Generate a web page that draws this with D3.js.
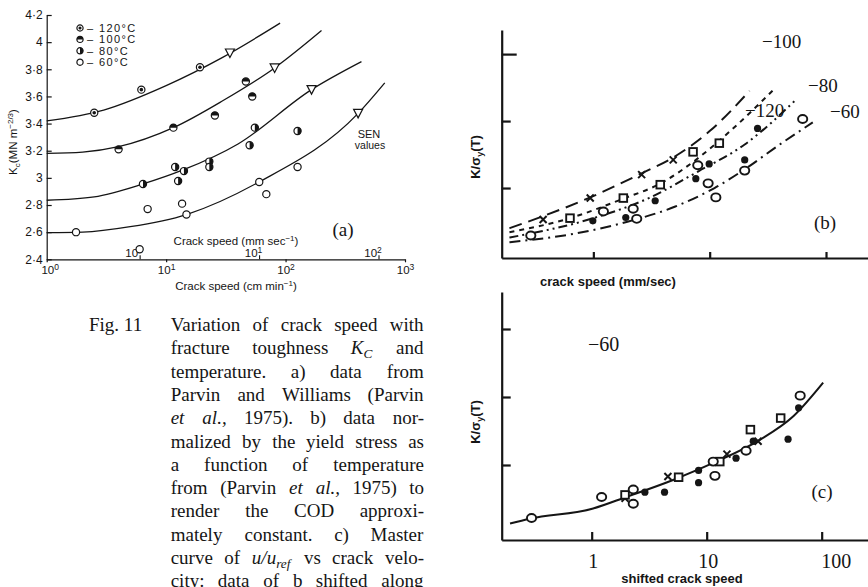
<!DOCTYPE html>
<html>
<head>
<meta charset="utf-8">
<style>
  body { margin: 0; padding: 0; background: #fff; }
  svg { display: block; }
  .sans { font-family: "Liberation Sans", Arial, sans-serif; }
  .serif { font-family: "Liberation Serif", "Times New Roman", serif; }
</style>
</head>
<body>
<div id="fig"></div>
<script src="https://d3js.org/d3.v7.min.js"></script>
<script>
// ---------- panel (a) data : crack speed (cm/min) vs Kc ----------
var kcTicks = [2.4, 2.6, 2.8, 3, 3.2, 3.4, 3.6, 3.8, 4, 4.2];
var kcTickLabels = ['2·4', '2·6', '2·8', '3', '3·2', '3·4', '3·6', '3·8', '4', '4·2'];
var speedTicks = [1, 10, 100, 1000];
var speedTickExp = ['0', '1', '2', '3'];
var mmTicks = [1, 10, 100];
var tempNames = ['120°C', '100°C', '80°C', '60°C'];

var curve120 = [[1, 3.42], [3, 3.50], [10, 3.68], [30, 3.89], [90, 4.14]];
var curve100 = [[1, 3.18], [2, 3.19], [4, 3.23], [11.5, 3.37], [30, 3.57], [81, 3.81], [200, 4.085]];
var curve80 = [[1, 2.835], [2.5, 2.86], [6.4, 2.955], [14, 3.06], [40, 3.25], [165, 3.65], [432, 3.856]];
var curve60 = [[1, 2.596], [2, 2.60], [5, 2.64], [14.8, 2.73], [60, 2.97], [405, 3.475], [677, 3.70]];

var pts120 = [[2.5, 3.48], [6.2, 3.65], [19.2, 3.815]];
var pts100 = [[4.0, 3.21], [11.5, 3.37], [25.6, 3.46], [46.5, 3.71], [52.6, 3.60]];
var pts80 = [[6.4, 2.955], [11.9, 3.08], [12.6, 2.977], [14.1, 3.05], [23, 3.12], [23, 3.08], [50, 3.24], [55.3, 3.37], [126, 3.345]];
var pts60 = [[1.76, 2.6], [6.0, 2.474], [7.0, 2.77], [13.6, 2.81], [14.8, 2.73], [60.2, 2.97], [69, 2.88], [126, 3.08]];
var senPts = [[34.2, 3.92], [81, 3.81], [165, 3.65], [405, 3.475]];

// ---------- panel (b) data : K/sigma_y(T) vs crack speed (mm/sec) ----------
var bCurveNames = ['-120', '-100', '-80', '-60'];
var bCurve120 = [[0.19, 0.40], [0.37, 0.58], [0.94, 0.86], [2.6, 1.22], [4.9, 1.46], [10, 1.85], [22, 2.45]];
var bCurve100 = [[0.19, 0.34], [0.63, 0.55], [1.8, 0.84], [3.8, 1.07], [8, 1.45], [15, 1.85], [36, 2.48]];
var bCurve80 = [[0.19, 0.26], [1, 0.55], [3, 0.85], [8, 1.25], [20, 1.65], [56, 2.33]];
var bCurve60 = [[0.19, 0.19], [0.7, 0.32], [2, 0.50], [5, 0.72], [11, 1.0], [20, 1.28], [40, 1.65], [77, 1.98]];

var bCross = [[0.37, 0.53], [0.94, 0.85], [2.6, 1.20], [4.86, 1.42]];
var bSquare = [[0.63, 0.55], [1.81, 0.85], [3.76, 1.05], [7.2, 1.54], [12.1, 1.67]];
var bOpen = [[0.29, 0.29], [1.22, 0.65], [2.2, 0.69], [2.36, 0.54], [7.9, 1.34], [9.7, 1.07], [11.3, 0.86], [20, 1.26], [63, 2.03]];
var bFilled = [[0.99, 0.51], [1.9, 0.56], [3.4, 0.81], [7.6, 1.14], [9.9, 1.36], [20, 1.42], [25.8, 1.89]];

// ---------- panel (c) data : master curve vs shifted crack speed ----------
var cTickLabels = ['1', '10', '100'];
var cCurve = [[0.195, 0.14], [0.29, 0.21], [1.03, 0.36], [2.0, 0.53], [5.1, 0.78], [11.4, 1.03], [29, 1.37], [57, 1.72], [103, 2.21]];
var cOpen = [[0.30, 0.22], [1.22, 0.53], [2.3, 0.64], [2.3, 0.43], [11.4, 1.05], [11.8, 0.84], [22, 1.21], [65, 2.02]];
var cSquare = [[1.95, 0.56], [5.7, 0.82], [13, 1.05], [24, 1.52], [44, 1.69]];
var cFilled = [[2.9, 0.60], [4.3, 0.60], [8.5, 0.92], [8.5, 0.74], [18, 1.10], [25.4, 1.35], [51, 1.38], [63, 1.84]];
var cCross = [[1.95, 0.51], [4.6, 0.83], [15, 1.16], [28, 1.35]];

// ---------- caption ----------
var captionLines = [
  'Variation of crack speed with',
  'fracture toughness K_C and',
  'temperature. a) data from',
  'Parvin and Williams (Parvin',
  '~et ~al., 1975). b) data nor-',
  'malized by the yield stress as',
  'a function of temperature',
  'from (Parvin ~et ~al., 1975) to',
  'render the COD approxi-',
  'mately constant. c) Master',
  'curve of u/u_ref vs crack velo-',
  'city: data of b shifted along'
];

var ink = '#151515';
var svg = d3.select('#fig').append('svg').attr('width', 868).attr('height', 587);
svg.append('rect').attr('width', 868).attr('height', 587).attr('fill', '#fff');

// ================= panel (a) =================
var ga = svg.append('g');
var xa = d3.scaleLog().domain([1, 1000]).range([46.7, 405]);
var xaMM = d3.scaleLog().domain([1 / 6, 1000 / 6]).range([46.7, 405]);
var ya = d3.scaleLinear().domain([2.4, 4.2]).range([259.3, 15]);

var yAxisA = ga.append('g').attr('class', 'sans').attr('transform', 'translate(46.7,0)')
  .call(d3.axisLeft(ya).tickValues(kcTicks).tickSize(-5).tickSizeOuter(0).tickPadding(4)
    .tickFormat(function(d, i) { return kcTickLabels[i]; }));
yAxisA.selectAll('text').attr('font-size', 12).attr('fill', ink);
yAxisA.selectAll('line, path').attr('stroke', ink).attr('stroke-width', 1.2);

var xAxisA = ga.append('g').attr('class', 'sans').attr('transform', 'translate(0,259.3)')
  .call(d3.axisBottom(xa).tickValues(speedTicks).tickSize(3).tickSizeOuter(0).tickFormat(''));
xAxisA.selectAll('line, path').attr('stroke', ink).attr('stroke-width', 1.2);
xAxisA.selectAll('.tick').append('text').attr('x', function(d) { return d === 1 ? 3 : 0; })
  .attr('y', 14.5).attr('text-anchor', 'middle')
  .attr('font-size', 11.5).attr('fill', ink)
  .each(function(d, i) {
    var t = d3.select(this);
    t.append('tspan').text('10');
    t.append('tspan').attr('dy', -4).attr('font-size', 8.5).text(speedTickExp[i]);
  });

var mmAxisA = ga.append('g').attr('class', 'sans').attr('transform', 'translate(0,259.3)')
  .call(d3.axisTop(xaMM).tickValues(mmTicks).tickSize(4).tickSizeOuter(0).tickFormat(''));
mmAxisA.select('.domain').remove();
mmAxisA.selectAll('line').attr('stroke', ink).attr('stroke-width', 1.1);
mmAxisA.selectAll('.tick').append('text').attr('x', -6).attr('y', -2).attr('text-anchor', 'middle')
  .attr('font-size', 11.5).attr('fill', ink)
  .each(function(d, i) {
    var t = d3.select(this);
    t.append('tspan').text('10');
    t.append('tspan').attr('dy', -4).attr('font-size', 8.5).text(speedTickExp[i]);
  });

var axTitle1 = ga.append('text').attr('class', 'sans').attr('x', 236).attr('y', 245)
  .attr('text-anchor', 'middle').attr('font-size', 11.5).attr('fill', ink);
axTitle1.append('tspan').text('Crack speed (mm sec');
axTitle1.append('tspan').attr('dy', -4).attr('font-size', 8).text('−1');
axTitle1.append('tspan').attr('dy', 4).text(')');
var axTitle2 = ga.append('text').attr('class', 'sans').attr('x', 236).attr('y', 290)
  .attr('text-anchor', 'middle').attr('font-size', 11.5).attr('fill', ink);
axTitle2.append('tspan').text('Crack speed (cm min');
axTitle2.append('tspan').attr('dy', -4).attr('font-size', 8).text('−1');
axTitle2.append('tspan').attr('dy', 4).text(')');

var yTitleA = ga.append('text').attr('class', 'sans')
  .attr('transform', 'translate(17,142) rotate(-90)').attr('text-anchor', 'middle')
  .attr('font-size', 11.5).attr('fill', ink);
yTitleA.append('tspan').text('K');
yTitleA.append('tspan').attr('dy', 3).attr('font-size', 8).text('c');
yTitleA.append('tspan').attr('dy', -3).text('(MN m');
yTitleA.append('tspan').attr('dy', -4).attr('font-size', 8).text('−2/3');
yTitleA.append('tspan').attr('dy', 4).text(')');

var lineA = d3.line().x(function(d) { return xa(d[0]); }).y(function(d) { return ya(d[1]); })
  .curve(d3.curveMonotoneX);
[curve120, curve100, curve80, curve60].forEach(function(c) {
  ga.append('path').attr('d', lineA(c)).attr('fill', 'none').attr('stroke', ink).attr('stroke-width', 1.3);
});

function markA(g, kind, cx, cy, r) {
  var m = g.append('g').attr('transform', 'translate(' + cx + ',' + cy + ')');
  m.append('circle').attr('r', r).attr('fill', '#fff').attr('stroke', ink).attr('stroke-width', 1.2);
  if (kind === 0) {
    m.append('circle').attr('r', r * 0.5).attr('fill', ink);
  } else if (kind === 1) {
    m.append('path').attr('d', 'M' + (-r) + ',0 A' + r + ',' + r + ' 0 0 1 ' + r + ',0 Z').attr('fill', ink);
  } else if (kind === 2) {
    m.append('path').attr('d', 'M0,' + (-r) + ' A' + r + ',' + r + ' 0 0 1 0,' + r + ' Z').attr('fill', ink);
  }
}
[pts120, pts100, pts80, pts60].forEach(function(pts, k) {
  pts.forEach(function(p) { markA(ga, k, xa(p[0]), ya(p[1]), 3.6); });
});
senPts.forEach(function(p) {
  ga.append('path').attr('transform', 'translate(' + xa(p[0]) + ',' + ya(p[1]) + ')')
    .attr('d', 'M-4.5,-4 L4.5,-4 L0,4.5 Z').attr('fill', '#fff').attr('stroke', ink).attr('stroke-width', 1.2);
});

tempNames.forEach(function(n, i) {
  var yy = 28 + i * 11.4;
  markA(ga, i, 80, yy, 3.1);
  ga.append('text').attr('class', 'sans').attr('x', 87).attr('y', yy + 4)
    .attr('font-size', 11).attr('letter-spacing', 1.4).attr('fill', ink).text('– ' + n);
});
ga.append('text').attr('class', 'sans').attr('x', 369).attr('y', 138).attr('text-anchor', 'middle')
  .attr('font-size', 11).attr('fill', ink).text('SEN');
ga.append('text').attr('class', 'sans').attr('x', 370).attr('y', 149).attr('text-anchor', 'middle')
  .attr('font-size', 10.5).attr('fill', ink).text('values');
ga.append('text').attr('class', 'serif').attr('x', 343).attr('y', 236).attr('text-anchor', 'middle')
  .attr('font-size', 19).attr('fill', ink).text('(a)');

// ================= panel (b) =================
var gb = svg.append('g');
var xb = d3.scaleLog().domain([0.163, 229.6]).range([501.7, 868]);
var yb = d3.scaleLinear().domain([-0.045, 3.36]).range([258, 30]);

var yAxisB = gb.append('g').attr('transform', 'translate(501.7,0)')
  .call(d3.axisLeft(yb).tickValues([1, 2, 3]).tickSize(-9).tickSizeOuter(0).tickFormat(''));
var xAxisB = gb.append('g').attr('transform', 'translate(0,258)')
  .call(d3.axisBottom(xb).tickValues([1, 10, 100]).tickSize(-6).tickSizeOuter(0).tickFormat(''));
gb.selectAll('line, path.domain').attr('stroke', ink).attr('stroke-width', 2.2);
yAxisB.selectAll('.tick line').attr('x2', function(d) { return d === 3 ? 15 : 9; });

var lineB = d3.line().x(function(d) { return xb(d[0]); }).y(function(d) { return yb(d[1]); })
  .curve(d3.curveMonotoneX);
var bDash = ['13,7', '5,5', '9,4,2,4,2,4', '11,5,2,5'];
[bCurve120, bCurve100, bCurve80, bCurve60].forEach(function(c, i) {
  gb.append('path').attr('d', lineB(c)).attr('fill', 'none').attr('stroke', ink)
    .attr('stroke-width', 2).attr('stroke-dasharray', bDash[i]);
});

function markBC(g, kind, cx, cy) {
  if (kind === 'x') {
    g.append('path').attr('d', 'M' + (cx - 3.5) + ',' + (cy - 3.5) + 'L' + (cx + 3.5) + ',' + (cy + 3.5) +
      'M' + (cx - 3.5) + ',' + (cy + 3.5) + 'L' + (cx + 3.5) + ',' + (cy - 3.5))
      .attr('stroke', ink).attr('stroke-width', 2);
  } else if (kind === 'sq') {
    g.append('rect').attr('x', cx - 3.8).attr('y', cy - 3.8).attr('width', 7.6).attr('height', 7.6)
      .attr('fill', '#fff').attr('stroke', ink).attr('stroke-width', 1.9);
  } else if (kind === 'f') {
    g.append('circle').attr('cx', cx).attr('cy', cy).attr('r', 3.6).attr('fill', ink);
  } else {
    g.append('ellipse').attr('cx', cx).attr('cy', cy).attr('rx', 4.6).attr('ry', 4)
      .attr('fill', '#fff').attr('stroke', ink).attr('stroke-width', 1.9);
  }
}
[[bCross, 'x'], [bSquare, 'sq'], [bOpen, 'o'], [bFilled, 'f']].forEach(function(s) {
  s[0].forEach(function(p) { markBC(gb, s[1], xb(p[0]), yb(p[1])); });
});

var bLabelPos = [[745, 117], [762, 48], [808, 92], [830, 118]];
bCurveNames.forEach(function(n, i) {
  gb.append('text').attr('class', 'serif').attr('x', bLabelPos[i][0]).attr('y', bLabelPos[i][1])
    .attr('font-size', 19).attr('fill', ink).text(n.replace('-', '−'));
});
gb.append('text').attr('class', 'serif').attr('x', 825).attr('y', 229).attr('text-anchor', 'middle')
  .attr('font-size', 19).attr('fill', ink).text('(b)');
gb.append('text').attr('class', 'sans').attr('x', 608).attr('y', 286).attr('text-anchor', 'middle')
  .attr('font-size', 13).attr('font-weight', 'bold').attr('fill', ink).text('crack speed (mm/sec)');
var yTitleB = gb.append('text').attr('class', 'sans').attr('transform', 'translate(480,157) rotate(-90)')
  .attr('text-anchor', 'middle').attr('font-size', 13).attr('font-weight', 'bold').attr('fill', ink);
yTitleB.append('tspan').text('K/σ');
yTitleB.append('tspan').attr('dy', 3).attr('font-size', 9).text('y');
yTitleB.append('tspan').attr('dy', -3).text('(T)');

// ================= panel (c) =================
var gc = svg.append('g');
var xc = d3.scaleLog().domain([0.165, 252.8]).range([501.7, 868]);
var yc = d3.scaleLinear().domain([-0.103, 3.544]).range([540, 292]);

gc.append('g').attr('transform', 'translate(501.7,0)')
  .call(d3.axisLeft(yc).tickValues([1, 2, 3]).tickSize(-9).tickSizeOuter(0).tickFormat(''));
var xAxisC = gc.append('g').attr('transform', 'translate(0,540)')
  .call(d3.axisBottom(xc).tickValues([1, 10, 100]).tickSize(-8).tickSizeOuter(0).tickPadding(14)
    .tickFormat(function(d, i) { return cTickLabels[i]; }));
gc.selectAll('line, path.domain').attr('stroke', ink).attr('stroke-width', 2.2);
xAxisC.selectAll('text').attr('class', 'serif').attr('font-size', 20).attr('fill', ink)
  .attr('dx', function(d) { return d === 100 ? 14 : 1; });

gc.append('path').attr('d', lineB.x(function(d) { return xc(d[0]); }).y(function(d) { return yc(d[1]); })(cCurve))
  .attr('fill', 'none').attr('stroke', ink).attr('stroke-width', 2);
[[cCross, 'x'], [cSquare, 'sq'], [cOpen, 'o'], [cFilled, 'f']].forEach(function(s) {
  s[0].forEach(function(p) { markBC(gc, s[1], xc(p[0]), yc(p[1])); });
});
gc.append('text').attr('class', 'serif').attr('x', 588).attr('y', 351)
  .attr('font-size', 20).attr('fill', ink).text('−60');
gc.append('text').attr('class', 'serif').attr('x', 822).attr('y', 498).attr('text-anchor', 'middle')
  .attr('font-size', 19).attr('fill', ink).text('(c)');
gc.append('text').attr('class', 'sans').attr('x', 682).attr('y', 583).attr('text-anchor', 'middle')
  .attr('font-size', 13).attr('font-weight', 'bold').attr('fill', ink).text('shifted crack speed');
var yTitleC = gc.append('text').attr('class', 'sans').attr('transform', 'translate(480,422) rotate(-90)')
  .attr('text-anchor', 'middle').attr('font-size', 13).attr('font-weight', 'bold').attr('fill', ink);
yTitleC.append('tspan').text('K/σ');
yTitleC.append('tspan').attr('dy', 3).attr('font-size', 9).text('y');
yTitleC.append('tspan').attr('dy', -3).text('(T)');

// ================= caption =================
var gcap = svg.append('g').attr('class', 'serif').attr('fill', ink);
var capFont = 19, capLeft = 170.7, capRight = 424, capTop = 331, capStep = 23.3;
gcap.append('text').attr('x', 89).attr('y', capTop).attr('font-size', capFont).text('Fig. 11');

function addWord(g, w) {
  var t = g.append('text').attr('font-size', capFont);
  if (w.charAt(0) === '~') {
    t.append('tspan').attr('font-style', 'italic').text(w.slice(1));
  } else if (w.indexOf('_') > 0) {
    var parts = w.split('_');
    t.append('tspan').attr('font-style', 'italic').text(parts[0]);
    t.append('tspan').attr('font-style', 'italic').attr('font-size', capFont * 0.7).attr('dy', 4).text(parts[1]);
  } else {
    t.text(w);
  }
  return t;
}
captionLines.forEach(function(line, li) {
  var y = capTop + li * capStep;
  var words = line.split(' ');
  var nodes = words.map(function(w) { return addWord(gcap, w).attr('y', y); });
  var widths = nodes.map(function(n) { return n.node().getBBox().width; });
  var total = d3.sum(widths);
  var gap = (capRight - capLeft - total) / (words.length - 1);
  var x = capLeft;
  nodes.forEach(function(n, i) { n.attr('x', x); x += widths[i] + gap; });
});
</script>
</body>
</html>
